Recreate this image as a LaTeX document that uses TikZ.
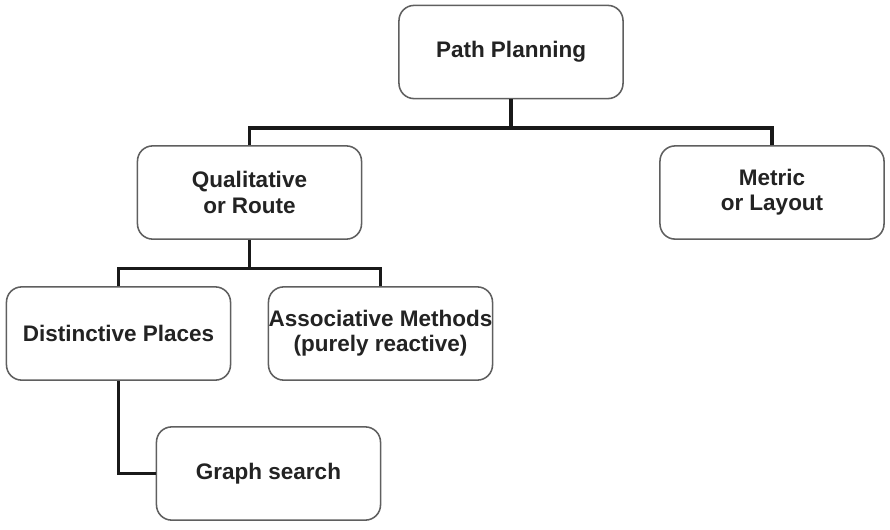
\documentclass[tikz,border=0pt]{standalone}
\usepackage{fontspec}
\setmainfont{Liberation Sans}
\definecolor{boxgray}{RGB}{95,95,95}
\definecolor{textgray}{RGB}{35,35,35}
\definecolor{linegray}{RGB}{25,25,25}
\tikzset{
  box/.style={rectangle, rounded corners=0.38cm, draw=boxgray, line width=1.1pt, fill=white, align=center,
    minimum width=5.6cm, minimum height=2.33cm, inner sep=0pt, text=textgray,
    font=\fontsize{16}{18}\selectfont\bfseries},
  link/.style={line width=2.8pt, draw=linegray}
}
\begin{document}
\begin{tikzpicture}[x=0.025cm, y=-0.025cm]
  \useasboundingbox (0,0) rectangle (890,529);
  % tree of planners
  \node[box] (plan) at (511,52) {Path Planning};
  \node[box] (qual) at (249.5,192.5) {Qualitative\\or Route};
  \node[box] (metric) at (772,192.5) {Metric\\or Layout};
  \node[box] (dist) at (118.5,333.5) {Distinctive Places};
  \node[box] (assoc) at (380.5,333.5) {Associative Methods\\(purely reactive)};
  \node[box] (graph) at (268.5,473.5) {Graph search};
  \coordinate (bus1) at (511,128);
  \coordinate (bus2) at (249.5,268.5);

  \draw[link] (plan) -- (bus1);
  \draw[link] (qual.north) |- (bus1) -| (metric.north);
  \draw[link] (qual) -- (bus2);
  \draw[link] (dist.north) |- (bus2) -| (assoc.north);
  \draw[link] (dist.south) |- (graph.west);
\end{tikzpicture}
\end{document}
